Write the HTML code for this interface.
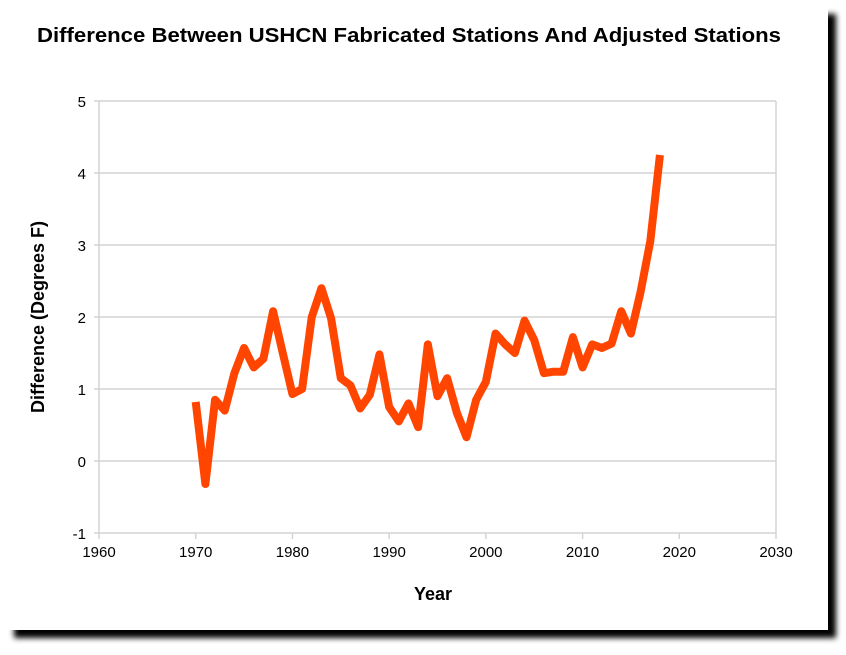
<!DOCTYPE html>
<html><head><style>
body{margin:0;background:#fff;font-family:"Liberation Sans",sans-serif;}
</style></head><body>
<svg width="846" height="650" xmlns="http://www.w3.org/2000/svg">
<defs><filter id="sh" x="-5%" y="-5%" width="115%" height="115%"><feGaussianBlur stdDeviation="3"/></filter></defs>
<rect x="14" y="14" width="822" height="624" fill="#000" filter="url(#sh)"/>
<rect x="0" y="0" width="828" height="630" fill="#fff"/>
<text x="37" y="42" font-size="20" font-weight="bold" textLength="744" lengthAdjust="spacingAndGlyphs">Difference Between USHCN Fabricated Stations And Adjusted Stations</text>
<g id="grid"></g><g id="ticks"></g>
<text x="433" y="600" text-anchor="middle" font-size="18" font-weight="bold">Year</text>
<text transform="translate(44,317) rotate(-90)" text-anchor="middle" font-size="18" font-weight="bold">Difference (Degrees F)</text>
<polyline id="line" fill="none" stroke="#ff4500" stroke-width="8" stroke-linejoin="round"/>
</svg>
<script>
const years=[1970,1971,1972,1973,1974,1975,1976,1977,1978,1979,1980,1981,1982,1983,1984,1985,1986,1987,1988,1989,1990,1991,1992,1993,1994,1995,1996,1997,1998,1999,2000,2001,2002,2003,2004,2005,2006,2007,2008,2009,2010,2011,2012,2013,2014,2015,2016,2017,2018];
const diffs=[0.82,-0.32,0.85,0.7,1.22,1.57,1.3,1.42,2.08,1.5,0.93,1.0,2.0,2.4,1.98,1.15,1.05,0.73,0.92,1.48,0.75,0.55,0.8,0.47,1.62,0.9,1.15,0.67,0.33,0.85,1.1,1.77,1.62,1.5,1.95,1.68,1.22,1.24,1.24,1.72,1.3,1.62,1.57,1.63,2.08,1.77,2.35,3.05,4.25];
const xTicks=[1960,1970,1980,1990,2000,2010,2020,2030];
const yTicks=[-1,0,1,2,3,4,5];
const X0=99,X1=776,Y0=533,Y1=101;
const xs=v=>X0+(v-1960)/(2030-1960)*(X1-X0);
const ys=v=>Y0-(v+1)/6*(Y0-Y1);
const NS="http://www.w3.org/2000/svg";
const grid=document.getElementById('grid'),tk=document.getElementById('ticks');
function mk(tag,attrs,parent){const e=document.createElementNS(NS,tag);for(const k in attrs)e.setAttribute(k,attrs[k]);parent.appendChild(e);return e;}
yTicks.forEach(v=>{
 const l=mk('line',{x1:X0-5,x2:X1,y1:ys(v),y2:ys(v),stroke:'#d4d4d4','stroke-width':1.5},grid);
 
 
 const t=mk('text',{x:86,y:ys(v)+6,'text-anchor':'end','font-size':15},tk);t.textContent=v;
 
 
});
mk('line',{x1:X0,x2:X0,y1:Y1,y2:Y0,stroke:'#d4d4d4','stroke-width':1.5},grid);
mk('line',{x1:X1,x2:X1,y1:Y1,y2:Y0,stroke:'#d4d4d4','stroke-width':1.5},grid);
xTicks.forEach(v=>{
 const l=mk('line',{x1:xs(v),x2:xs(v),y1:Y0,y2:Y0+6,stroke:'#d4d4d4','stroke-width':1.5},grid);
 
 
 const t=mk('text',{x:xs(v),y:557,'text-anchor':'middle','font-size':15},tk);t.textContent=v;
 
 
});
document.getElementById('line').setAttribute('points',years.map((y,i)=>xs(y)+','+ys(diffs[i])).join(' '));
</script>
</body></html>
